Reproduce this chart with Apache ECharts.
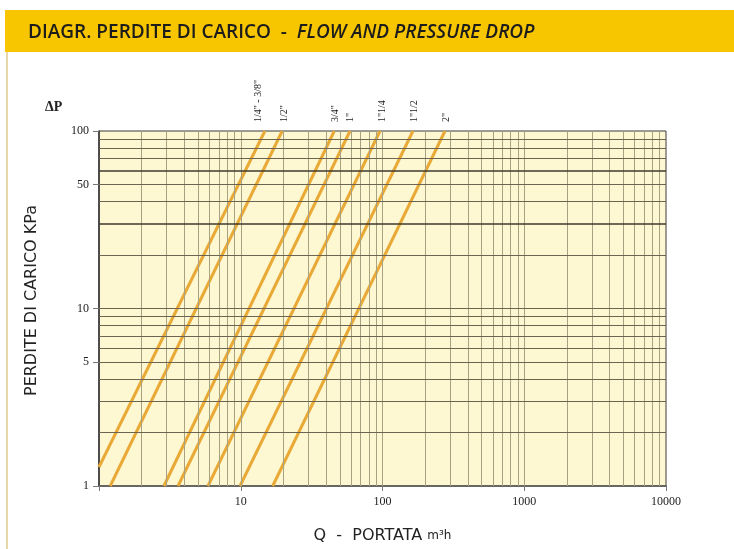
<!DOCTYPE html>
<html>
<head>
<meta charset="utf-8">
<script src="https://cdn.jsdelivr.net/npm/echarts@6/dist/echarts.min.js"></script>
<style>html,body{margin:0;padding:0;background:#fff;}#c{width:734px;height:549px;}</style>
</head>
<body>
<div id="c"></div>
<script>
// Pipe sizes (series names)
const sizes = ['1/4" - 3/8"', '1/2"', '3/4"', '1"', '1"1/4', '1"1/2', '2"'];
// Flow Q (m3/h) at the start and end points of each line
const qStart = [1, 1.2, 2.87, 3.61, 5.87, 9.88, 16.8];
const qEnd = [14.8, 19.6, 45.7, 59.0, 96.0, 164, 276];
// Pressure drop (kPa) at start and end points
const dpStart = [1.28, 1, 1, 1, 1, 1, 1];
const dpEnd = [100, 100, 100, 100, 100, 100, 100];
// label sideways shift (px) for the rotated size labels
const labelShift = [-7, 2, 1, 0, 2, 1, 1];

// Axis tick labels
const xTickLabels = [10, 100, 1000, 10000];
const xTicks = [1, 10, 100, 1000, 10000];
const yTickLabels = [1, 5, 10, 50, 100];
// Log grid: mantissas per decade
const mantissas = [2, 3, 4, 5, 6, 7, 8, 9];
const xDecades = [1, 10, 100, 1000];
const yDecades = [1, 10];
const yDark = [30, 60];

const xGrid = [];
xDecades.forEach(d => mantissas.forEach(m => xGrid.push(m * d)));
xGrid.push(10, 100, 1000);
const yGrid = [];
yDecades.forEach(d => mantissas.forEach(m => yGrid.push(m * d)));
yGrid.push(10);

const gridLines = [];
xGrid.forEach(v => gridLines.push({ xAxis: v, lineStyle: { type: 'solid', color: '#a8a282', width: 1 } }));
yGrid.forEach(v => gridLines.push({ yAxis: v, lineStyle: { type: 'solid', color: yDark.includes(v) ? '#3e3a2c' : '#6a6450', width: yDark.includes(v) ? 1.5 : 1.2 } }));

const lineColor = '#e9a937';
const series = [{
  type: 'line', data: [], z: 1, silent: true,
  markLine: { silent: true, symbol: 'none', label: { show: false }, animation: false, lineStyle: { type: 'solid' }, data: gridLines }
}];
sizes.forEach((name, i) => {
  series.push({
    name: name, type: 'line', z: 3, symbol: 'none', silent: true, animation: false,
    lineStyle: { color: lineColor, width: 3 },
    data: [[qStart[i], dpStart[i]], [qEnd[i], dpEnd[i]]],
    endLabel: {
      show: true, formatter: '{a}', rotate: 90, align: 'left', verticalAlign: 'middle',
      offset: [9, labelShift[i]], distance: 0,
      fontFamily: 'Liberation Serif', fontSize: 10, color: '#222'
    }
  });
});

const chart = echarts.init(document.getElementById('c'));
chart.setOption({
  animation: false,
  backgroundColor: '#ffffff',
  graphic: [
    { type: 'rect', shape: { x: 5, y: 10, width: 729, height: 42 }, style: { fill: '#f8c600' }, z: -1 },
    { type: 'line', shape: { x1: 7, y1: 52, x2: 7, y2: 549 }, style: { stroke: '#e8d7a8', lineWidth: 2 }, z: -1 }
  ],
  title: [
    {
      text: '{a|DIAGR. PERDITE DI CARICO  -  }{b|FLOW AND PRESSURE DROP}',
      left: 23, top: 18,
      textStyle: {
        rich: {
          a: { fontFamily: 'Open Sans', fontSize: 19, fontWeight: 600, color: '#1c1c1c' },
          b: { fontFamily: 'Open Sans', fontSize: 19, fontWeight: 600, fontStyle: 'italic', color: '#1c1c1c' }
        }
      }
    },
    {
      text: 'ΔP', left: 40, top: 95,
      textStyle: { fontFamily: 'Liberation Serif', fontSize: 14, fontWeight: 'bold', color: '#222' }
    }
  ],
  grid: {
    left: 99, right: 68, top: 131, bottom: 63, show: true,
    backgroundColor: '#fdf8d2', borderColor: '#3a3a3a', borderWidth: 1
  },
  xAxis: {
    type: 'log', logBase: 10, min: 1, max: 10000,
    name: '{n|Q  -  PORTATA }{u|m³h}', nameLocation: 'middle', nameGap: 42,
    nameTextStyle: {
      rich: {
        n: { fontFamily: 'DejaVu Sans', fontSize: 16, color: '#222' },
        u: { fontFamily: 'DejaVu Sans', fontSize: 12, color: '#222' }
      }
    },
    axisLine: { show: true, lineStyle: { color: '#555', width: 1.5 } },
    axisTick: { show: true, customValues: xTicks, length: 5, lineStyle: { color: '#777' } },
    axisLabel: { customValues: xTickLabels, formatter: v => String(v), fontFamily: 'Liberation Serif', fontSize: 12, color: '#222', margin: 10 },
    splitLine: { show: false }, minorTick: { show: false }
  },
  yAxis: {
    type: 'log', logBase: 10, min: 1, max: 100,
    name: 'PERDITE DI CARICO KPa', nameLocation: 'middle', nameGap: 59, nameRotate: 90,
    nameTextStyle: { fontFamily: 'DejaVu Sans', fontSize: 16, color: '#222', padding: [0, 0, 0, 16] },
    axisLine: { show: true, lineStyle: { color: '#333', width: 1.5 } },
    axisTick: { show: true, customValues: yTickLabels, length: 6, lineStyle: { color: '#777' } },
    axisLabel: { customValues: yTickLabels, formatter: v => String(v), fontFamily: 'Liberation Serif', fontSize: 12, color: '#222', margin: 10 },
    splitLine: { show: false }, minorTick: { show: false }
  },
  series: series
});
</script>
</body>
</html>
